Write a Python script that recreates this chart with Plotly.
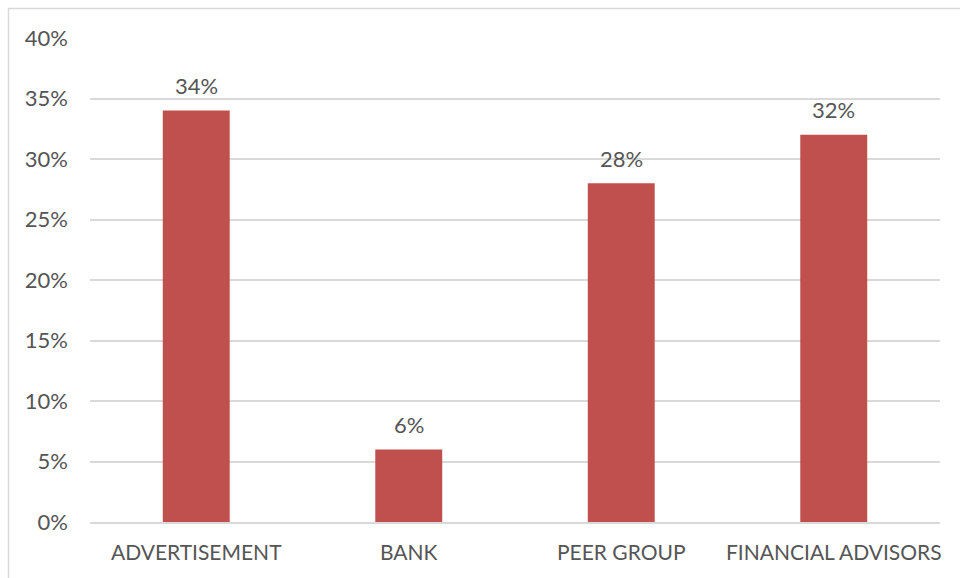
import plotly.graph_objects as go

# Survey: where respondents get financial information
categories = ["ADVERTISEMENT", "BANK", "PEER GROUP", "FINANCIAL ADVISORS"]
shares = [34, 6, 28, 32]  # percent
y_ticks = [0, 5, 10, 15, 20, 25, 30, 35, 40]
y_tick_labels = [f"{v}%" for v in y_ticks]

BAR_COLOR = "#C0504D"
TEXT_COLOR = "#555555"
GRID_COLOR = "#D9D9D9"
FONT = "Lato, Calibri, Carlito, sans-serif"

fig = go.Figure(
    go.Bar(
        x=categories,
        y=shares,
        marker=dict(color=BAR_COLOR, line=dict(width=0)),
        hovertemplate="%{x}: %{y}%<extra></extra>",
    )
)

# value labels above each bar
for cat, val in zip(categories, shares):
    fig.add_annotation(
        x=cat, y=val, text=f"{val}%", showarrow=False,
        yanchor="middle", yshift=25,
        font=dict(family=FONT, size=22, color=TEXT_COLOR),
    )

# thin outer frame around the chart
fig.add_shape(
    type="rect", xref="paper", yref="paper",
    x0=(8.5 - 90) / 850, x1=1.2, y0=-0.3, y1=1 + (38 - 8.5) / 484,
    line=dict(color="#D9D9D9", width=1.5), fillcolor="rgba(0,0,0,0)", layer="below",
)

fig.update_layout(
    width=960, height=578,
    margin=dict(l=90, r=20, t=38, b=56),
    paper_bgcolor="white", plot_bgcolor="white",
    bargap=0.685,
    showlegend=False,
    font=dict(family=FONT, size=21, color=TEXT_COLOR),
    xaxis=dict(
        showgrid=False, showline=True, linecolor=GRID_COLOR, linewidth=1.5,
        ticks="", ticklabelstandoff=11,
        tickfont=dict(family=FONT, size=21, color=TEXT_COLOR),
    ),
    yaxis=dict(
        range=[0, 40], tickvals=y_ticks, ticktext=y_tick_labels,
        showgrid=True, gridcolor=GRID_COLOR, gridwidth=1.5,
        zeroline=False, showline=False, ticks="", ticklabelstandoff=21,
        tickfont=dict(family=FONT, size=22, color=TEXT_COLOR),
    ),
)

fig.write_html("out.html")
